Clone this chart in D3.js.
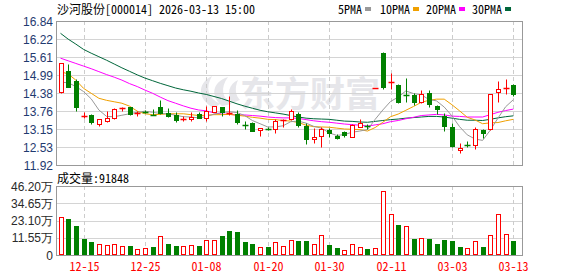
<!DOCTYPE html>
<html lang="zh">
<head>
<meta charset="UTF-8">
<title>沙河股份 K线</title>
<script src="https://cdn.jsdelivr.net/npm/d3@7/dist/d3.min.js"></script>
<style>
	body { margin: 0; background: #fff; }
	svg text { font-family: "Liberation Sans", Arial, sans-serif; font-size: 12px; }
	svg text.mono { font-family: "Noto Sans Mono CJK SC", "Noto Sans CJK SC", monospace; font-size: 12px; }
</style>
</head>
<body>
<div id="chart"></div>
<script>
// trading days shown
var dates = ['12-10','12-11','12-12','12-15','12-16','12-17','12-18','12-19','12-22','12-23',
	'12-24','12-25','12-26','12-29','12-30','12-31','01-05','01-06','01-07','01-08',
	'01-09','01-12','01-13','01-14','01-15','01-16','01-19','01-20','01-21','01-22',
	'01-23','01-26','01-27','01-28','01-29','01-30','02-02','02-03','02-04','02-05',
	'02-06','02-09','02-10','02-11','02-12','02-13','02-24','02-25','02-26','02-27',
	'03-02','03-03','03-04','03-05','03-06','03-09','03-10','03-11','03-12','03-13'];

var open = [14.40,15.13,14.79,13.59,13.62,13.33,13.41,13.54,13.85,13.89,
	13.68,13.77,13.65,13.90,13.70,13.64,13.48,13.48,13.65,13.52,
	13.73,13.89,13.69,13.65,13.30,13.37,13.10,13.18,13.15,13.45,
	13.50,13.65,13.25,12.81,12.92,13.12,12.91,13.05,12.89,13.23,
	13.26,14.56,15.76,14.75,14.65,14.32,14.31,14.06,14.39,13.94,
	13.61,13.23,12.43,12.61,12.59,13.13,13.16,14.40,14.53,14.65];
var high = [15.42,15.37,14.87,13.74,13.65,13.49,13.77,13.87,13.90,13.90,
	13.78,13.79,13.82,14.14,13.87,13.74,13.60,13.73,13.73,13.93,
	13.94,13.91,14.29,13.79,13.42,13.40,13.18,13.21,13.49,13.49,
	13.84,13.74,13.36,13.20,13.21,13.18,12.97,13.08,13.33,13.50,
	13.32,14.56,15.78,15.07,14.70,14.88,14.38,14.48,14.48,13.97,
	13.69,13.34,12.67,12.75,13.23,13.16,14.33,14.79,14.86,14.70];
var low = [14.38,14.58,13.78,13.52,13.33,13.25,13.40,13.49,13.77,13.64,
	13.60,13.69,13.62,13.67,13.56,13.38,13.42,13.42,13.51,13.42,
	13.72,13.58,13.63,13.33,13.15,13.08,12.91,13.12,13.03,13.23,
	13.45,13.22,12.64,12.68,12.55,12.88,12.80,12.87,12.87,13.22,
	13.15,14.56,14.52,14.51,14.05,14.08,13.97,14.05,13.90,13.66,
	13.08,12.55,12.34,12.52,12.48,12.83,13.13,14.06,14.35,14.28];
var close = [15.39,14.60,13.91,13.61,13.38,13.48,13.53,13.83,13.86,13.66,
	13.70,13.73,13.63,13.70,13.58,13.46,13.50,13.57,13.54,13.77,
	13.93,13.73,13.71,13.39,13.28,13.09,13.17,13.16,13.42,13.47,
	13.77,13.28,12.80,12.88,13.15,13.00,12.83,12.94,13.30,13.34,
	13.24,14.56,14.57,14.77,14.08,14.30,14.08,14.34,14.00,13.82,
	13.25,12.57,12.50,12.59,13.14,13.03,14.33,14.51,14.55,14.35];

var volume = [252000,241000,194000,107000,87000,71000,65000,71000,62000,58000,
	38000,45000,51000,125000,74000,58000,58000,66000,60000,100000,
	100000,127000,161000,154000,87000,74000,51000,54000,87000,60000,
	100000,94000,94000,74000,132000,67000,47000,33000,74000,54000,
	40000,45000,429000,275000,201000,194000,107000,112000,107000,74000,
	100000,94000,54000,47000,94000,54000,134000,275000,141000,91848];

var ma5 = [14.75,14.73,14.60,14.43,14.18,13.80,13.58,13.57,13.62,13.67,
	13.72,13.76,13.72,13.68,13.67,13.62,13.57,13.56,13.53,13.57,
	13.66,13.71,13.74,13.71,13.61,13.44,13.33,13.22,13.22,13.26,
	13.40,13.42,13.35,13.24,13.18,13.02,12.93,12.96,13.04,13.08,
	13.13,13.48,13.80,14.09,14.24,14.45,14.36,14.32,14.16,14.11,
	13.90,13.60,13.23,12.95,12.81,12.76,13.11,13.52,13.91,14.15];
var ma10 = [15.11,15.03,14.82,14.54,14.37,14.20,14.13,14.08,14.03,13.93,
	13.76,13.67,13.64,13.65,13.67,13.67,13.67,13.64,13.61,13.62,
	13.64,13.64,13.65,13.62,13.59,13.55,13.52,13.48,13.47,13.44,
	13.42,13.37,13.28,13.23,13.22,13.21,13.18,13.15,13.14,13.13,
	13.08,13.20,13.38,13.57,13.66,13.79,13.92,14.06,14.13,14.17,
	14.17,13.98,13.77,13.55,13.46,13.33,13.36,13.37,13.43,13.48];
var ma20 = [15.57,15.48,15.39,15.30,15.21,15.11,15.01,14.92,14.82,14.70,
	14.60,14.48,14.37,14.24,14.12,14.03,13.94,13.86,13.80,13.77,
	13.70,13.66,13.65,13.63,13.63,13.61,13.59,13.56,13.54,13.53,
	13.53,13.51,13.47,13.43,13.40,13.38,13.35,13.32,13.30,13.28,
	13.25,13.29,13.33,13.40,13.44,13.50,13.55,13.61,13.63,13.65,
	13.63,13.59,13.58,13.56,13.56,13.56,13.64,13.72,13.78,13.83];
var ma30 = [16.42,16.22,16.05,15.87,15.74,15.62,15.50,15.37,15.24,15.12,
	15.00,14.89,14.80,14.71,14.63,14.55,14.49,14.44,14.38,14.33,
	14.26,14.19,14.10,14.01,13.93,13.86,13.79,13.74,13.70,13.66,
	13.61,13.56,13.52,13.50,13.49,13.48,13.45,13.42,13.41,13.39,
	13.38,13.41,13.44,13.47,13.49,13.52,13.54,13.56,13.58,13.58,
	13.56,13.52,13.48,13.45,13.45,13.44,13.48,13.53,13.57,13.60];

var priceTicks = [11.92, 12.53, 13.15, 13.76, 14.38, 14.99, 15.61, 16.22, 16.84];
var volTicks = [0, 115500, 231000, 346500, 462000];
var volTickLabels = ['0', '11.55万', '23.10万', '34.65万', '46.20万'];
var tickDates = ['12-15', '12-25', '01-08', '01-20', '01-30', '02-11', '03-03', '03-13'];

var maNames = ['5PMA', '10PMA', '20PMA', '30PMA'];
var maColors = ['#999999', '#f0a000', '#ff00ff', '#00663a'];

var RED = '#ff0000', GREEN = '#008000';

var left = 56, right = 522;
var pTop = 21, pBottom = 165;
var vTop = 186, vBottom = 255;

var svg = d3.select('#chart').append('svg')
	.attr('width', 578)
	.attr('height', 276);

var x = d3.scaleLinear().domain([0, dates.length - 1]).range([60.5, 513.3]);
var y = d3.scaleLinear().domain([11.92, 16.84]).range([pBottom, pTop]);
var yv = d3.scaleLinear().domain([0, 462000]).range([vBottom, vTop]);

function cx(i) {
	return Math.round(x(i)) + 0.5;
}
function py(v) {
	return Math.round(y(v)) + 0.5;
}

// watermark
var wm = svg.append('g').attr('fill', '#e6e6ea');
wm.append('path')
	.attr('d', 'M214,108 C198,100 196,84 212,76 C205,88 208,98 220,104 Z M222,106 C210,96 212,82 228,77 C220,88 222,98 232,104 Z M232,103 C226,94 229,84 238,80 C234,89 236,96 240,100 Z');
wm.append('text')
	.attr('x', 240)
	.attr('y', 107)
	.style('font-family', '"Noto Sans CJK SC", sans-serif')
	.style('font-size', '35px')
	.style('font-weight', 'bold')
	.text('东方财富');

// grid
var grid = svg.append('g');
grid.selectAll('.hgrid')
	.data(priceTicks)
	.enter().append('line')
	.attr('x1', left).attr('x2', right)
	.attr('y1', function (d) { return py(d); })
	.attr('y2', function (d) { return py(d); })
	.attr('stroke', '#d4d4d4');

grid.selectAll('.vgrid')
	.data(volTicks)
	.enter().append('line')
	.attr('x1', left).attr('x2', right)
	.attr('y1', function (d) { return Math.round(yv(d)) + 0.5; })
	.attr('y2', function (d) { return Math.round(yv(d)) + 0.5; })
	.attr('stroke', '#d4d4d4');

tickDates.forEach(function (t) {
	var xi = cx(dates.indexOf(t));
	grid.append('line')
		.attr('x1', xi).attr('x2', xi)
		.attr('y1', pTop).attr('y2', pBottom)
		.attr('stroke', '#cccccc')
		.attr('stroke-dasharray', '4,3');
	grid.append('line')
		.attr('x1', xi).attr('x2', xi)
		.attr('y1', vTop).attr('y2', vBottom)
		.attr('stroke', '#cccccc')
		.attr('stroke-dasharray', '4,3');
});

// moving averages
var maData = [ma5, ma10, ma20, ma30];
var line = d3.line()
	.x(function (d, i) { return x(i); })
	.y(function (d) { return y(d); });

maData.slice().reverse().forEach(function (arr, k) {
	svg.append('path')
		.attr('d', line(arr))
		.attr('fill', 'none')
		.attr('stroke', maColors[3 - k])
		.attr('stroke-width', 1);
});

// candles
var candles = svg.selectAll('.candle')
	.data(dates)
	.enter().append('g')
	.attr('class', 'candle');

candles.each(function (d, i) {
	var g = d3.select(this);
	var up = close[i] >= open[i];
	var col = up ? RED : GREEN;
	var xc = cx(i);
	var yo = py(open[i]), yc = py(close[i]);
	g.append('line')
		.attr('x1', xc).attr('x2', xc)
		.attr('y1', py(high[i])).attr('y2', py(low[i]))
		.attr('stroke', col);
	if (Math.abs(yo - yc) < 2) {
		g.append('line')
			.attr('x1', xc - 3).attr('x2', xc + 3)
			.attr('y1', yc).attr('y2', yc)
			.attr('stroke', col)
			.attr('stroke-width', 1.5);
	} else if (up) {
		g.append('rect')
			.attr('x', xc - 2).attr('width', 4)
			.attr('y', yc).attr('height', yo - yc)
			.attr('fill', '#fff')
			.attr('stroke', col);
	} else {
		g.append('rect')
			.attr('x', xc - 2.5).attr('width', 5)
			.attr('y', yo - 0.5).attr('height', yc - yo + 1)
			.attr('fill', col);
	}
});

// volume bars, coloured by close vs previous close
svg.selectAll('.vol')
	.data(volume)
	.enter().append('rect')
	.attr('class', 'vol')
	.each(function (v, i) {
		var up = i === 0 || close[i] >= close[i - 1];
		var xc = cx(i);
		var top = Math.round(yv(v)) + 0.5;
		var r = d3.select(this);
		if (up) {
			r.attr('x', xc - 2).attr('width', 4)
				.attr('y', top).attr('height', vBottom - 0.5 - top)
				.attr('fill', '#fff').attr('stroke', RED);
		} else {
			r.attr('x', xc - 2.5).attr('width', 5)
				.attr('y', top - 0.5).attr('height', vBottom - top + 0.5)
				.attr('fill', GREEN);
		}
	});

// frames
svg.append('rect')
	.attr('x', left + 0.5).attr('y', pTop + 0.5)
	.attr('width', right - left).attr('height', pBottom - pTop)
	.attr('fill', 'none').attr('stroke', '#999');
svg.append('rect')
	.attr('x', left + 0.5).attr('y', vTop + 0.5)
	.attr('width', right - left).attr('height', vBottom - vTop)
	.attr('fill', 'none').attr('stroke', '#999');

// axis labels
svg.selectAll('.plabel')
	.data(priceTicks)
	.enter().append('text')
	.attr('x', 53)
	.attr('y', function (d) { return y(d) + 4.5; })
	.attr('text-anchor', 'end')
	.attr('fill', '#1f3a70')
	.text(function (d) { return d.toFixed(2); });

svg.selectAll('.vlabel')
	.data(volTicks)
	.enter().append('text')
	.attr('x', 53)
	.attr('y', function (d) { return yv(d) + 4.5; })
	.attr('text-anchor', 'end')
	.attr('fill', '#2a2a2a')
	.text(function (d, i) { return volTickLabels[i]; });

svg.selectAll('.dlabel')
	.data(tickDates)
	.enter().append('text')
	.attr('class', 'mono')
	.attr('x', function (d) { return cx(dates.indexOf(d)); })
	.attr('y', 271)
	.attr('text-anchor', 'middle')
	.attr('fill', RED)
	.text(function (d) { return d; });

// titles
svg.append('text')
	.attr('class', 'mono')
	.attr('x', 57).attr('y', 14)
	.attr('fill', '#000')
	.text('沙河股份[000014] 2026-03-13 15:00');

svg.append('text')
	.attr('class', 'mono')
	.attr('x', 57).attr('y', 183)
	.attr('fill', '#000')
	.text('成交量:' + volume[volume.length - 1]);

// legend
var legX = [338, 380, 426, 472];
maNames.forEach(function (n, k) {
	var t = svg.append('text')
		.attr('class', 'mono')
		.attr('x', legX[k]).attr('y', 14)
		.attr('fill', '#000')
		.text(n);
	var w = t.node().getComputedTextLength();
	svg.append('rect')
		.attr('x', legX[k] + w + 3).attr('y', 7)
		.attr('width', 6).attr('height', 4)
		.attr('fill', maColors[k]);
});
</script>
</body>
</html>
